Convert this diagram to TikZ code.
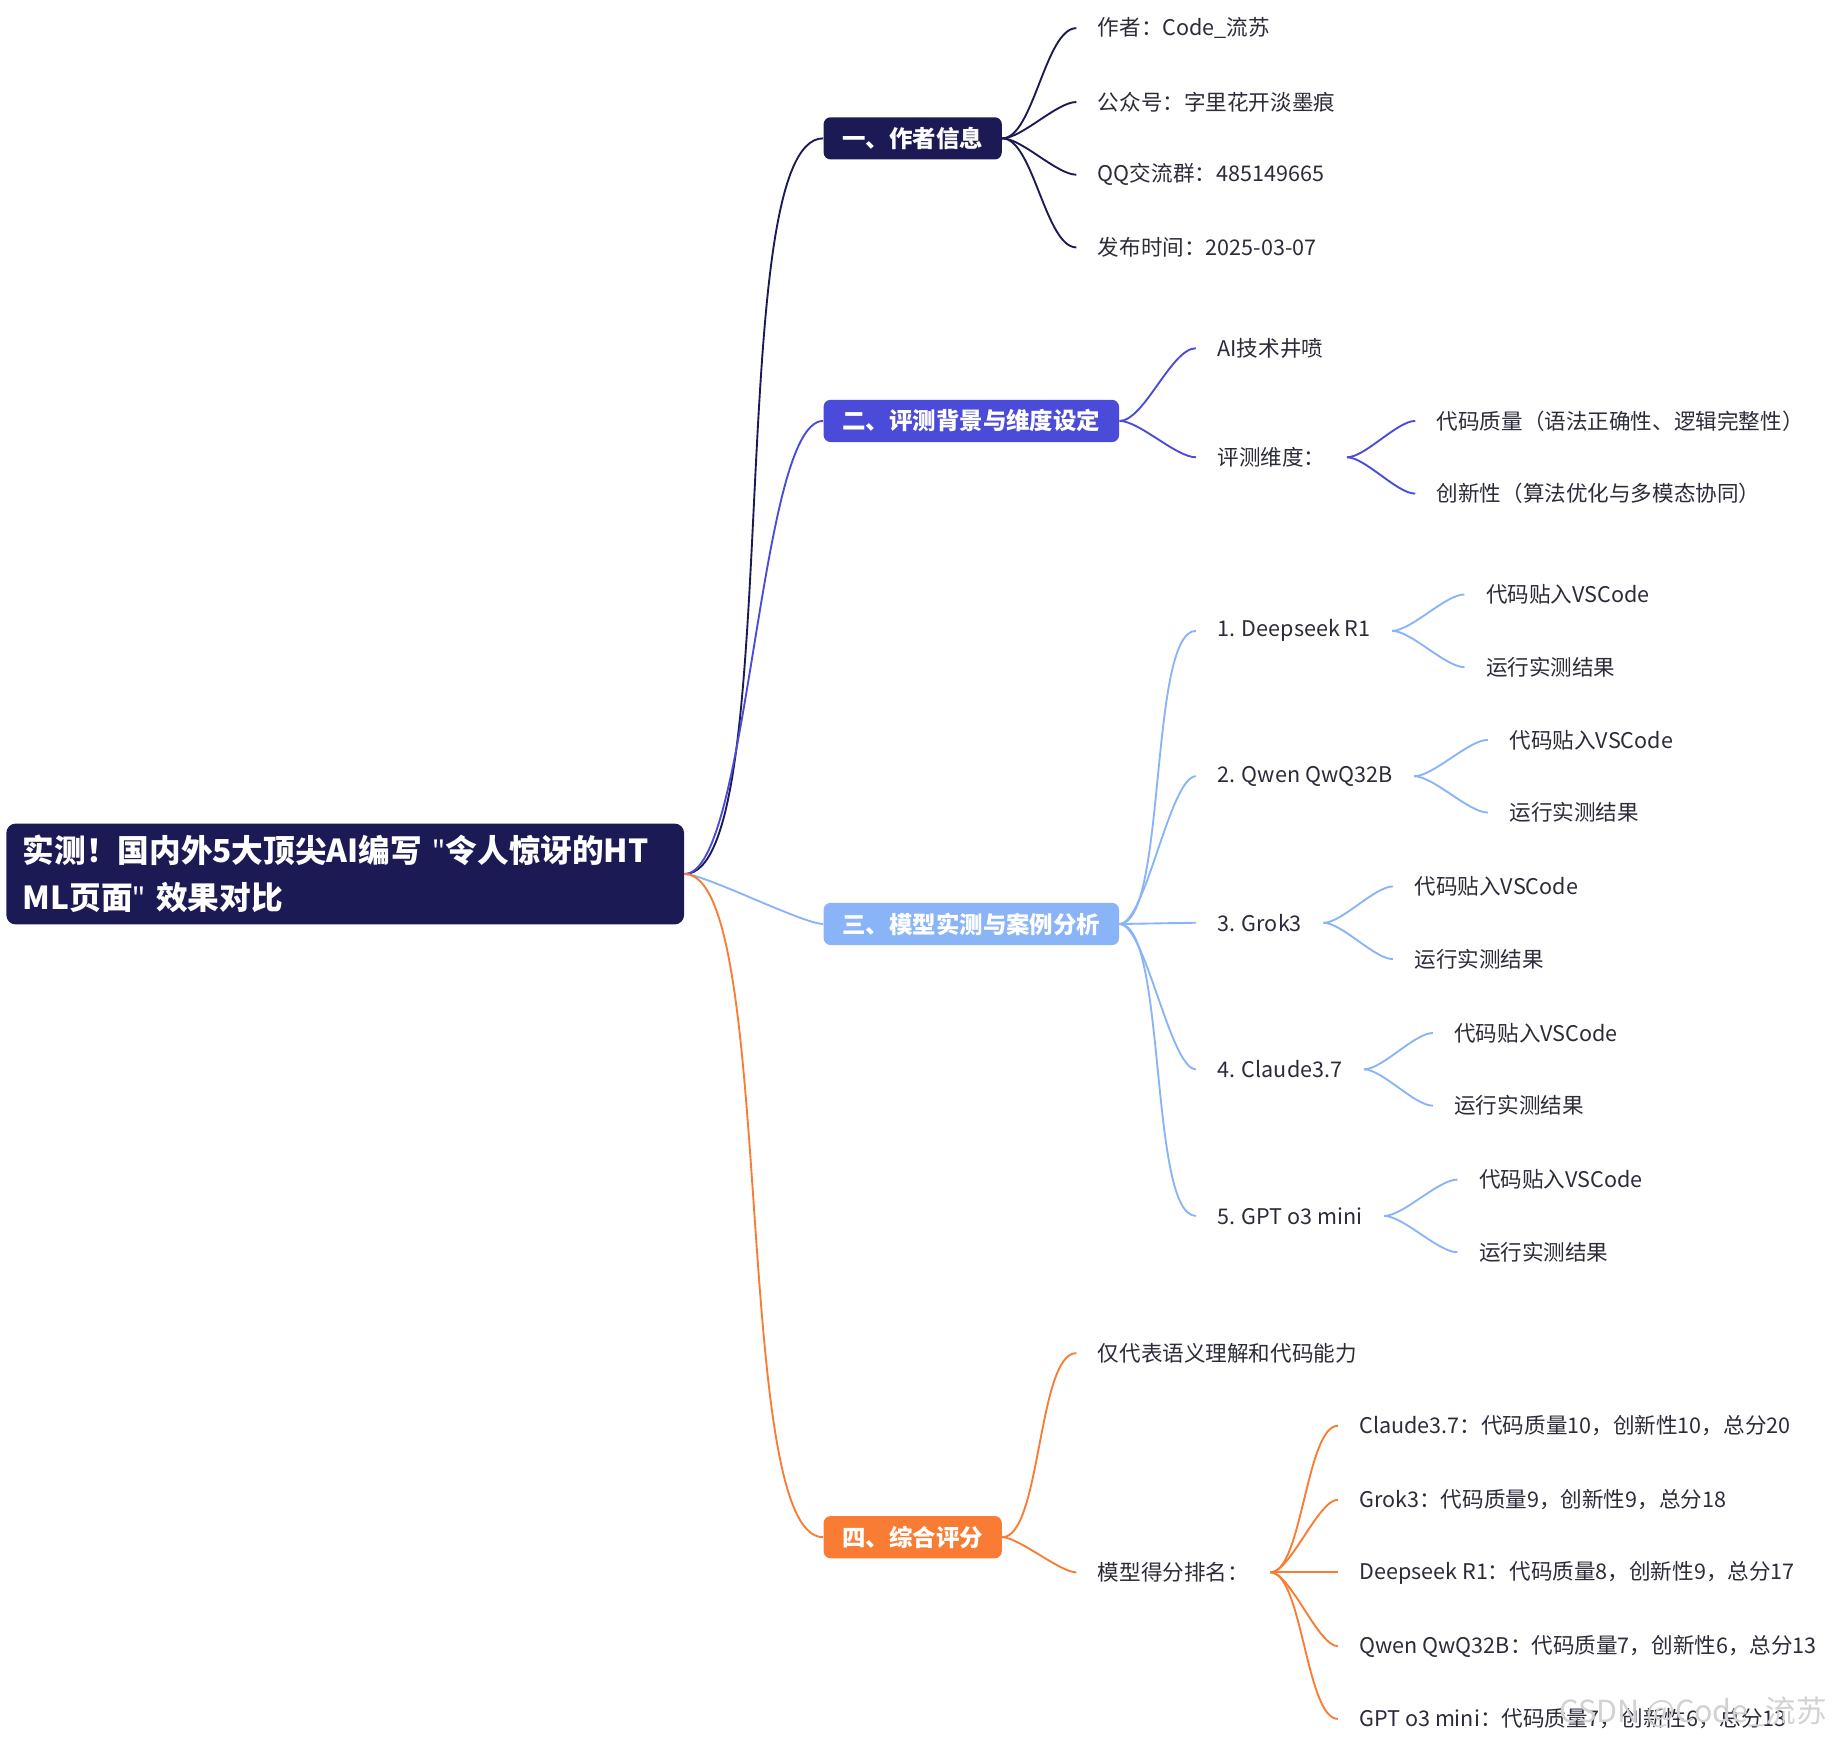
\documentclass[tikz,border=0pt]{standalone}
\usepackage{fontspec}
\setmainfont{Noto Sans CJK SC}
\newfontfamily\latinfont{Noto Sans}
\usepackage{xcolor}
\definecolor{navy}{HTML}{1B1A55}
\definecolor{violet}{HTML}{4B4BD9}
\definecolor{sky}{HTML}{8AB4F8}
\definecolor{tang}{HTML}{F97C35}
\definecolor{ink}{HTML}{2B2B3A}
\newcommand{\dq}{{\latinfont\symbol{34}}}
\begin{document}
\begin{tikzpicture}[x=0.5pt, y=-0.5pt,
    topic/.style={fill=#1, rounded corners=3pt, text=white, font=\fontsize{10}{12}\bfseries,
        minimum height=18pt, inner xsep=8pt, anchor=west},
    leaf/.style={anchor=west, inner xsep=9pt, text=ink, font=\fontsize{9.2}{11}\selectfont},
    link/.style={draw=#1, line width=0.8pt}]
    \useasboundingbox (0,0) rectangle (1565,1484);

    % root
    \node[fill=navy, rounded corners=4pt, text=white, font=\fontsize{13.5}{20}\bfseries,
        align=left, anchor=north west, text width=275pt, minimum height=43pt, inner xsep=7pt]
        (root) at (5,702) {实测！国内外5大顶尖AI编写 \dq{}令人惊讶的HT\\ML页面\dq{} 效果对比};

    % main topics
    \node[topic=navy] (t1) at (702,118) {一、作者信息};
    \node[topic=violet] (t2) at (702,359) {二、评测背景与维度设定};
    \node[topic=sky] (t3) at (702,788) {三、模型实测与案例分析};
    \node[topic=tang] (t4) at (702,1311) {四、综合评分};

    \foreach \t/\c in {t1/navy, t2/violet, t3/sky, t4/tang}
        \draw[link=\c] (root.east) to[out=0, in=180, looseness=0.35] (\t.west);

    % author info
    \node[leaf] (a1) at (918,24) {作者：Code\_流苏};
    \node[leaf] (a2) at (918,87) {公众号：字里花开淡墨痕};
    \node[leaf] (a3) at (918,149) {QQ交流群：485149665};
    \node[leaf] (a4) at (918,211) {发布时间：2025-03-07};
    \foreach \n in {a1,a2,a3,a4}
        \draw[link=navy] (t1.east) to[out=0, in=180, looseness=0.6] (\n.west);

    % background
    \node[leaf] (b1) at (1020,297) {AI技术井喷};
    \node[leaf] (b2) at (1020,390) {评测维度：};
    \node[leaf] (b21) at (1207,359) {代码质量（语法正确性、逻辑完整性）};
    \node[leaf] (b22) at (1207,421) {创新性（算法优化与多模态协同）};
    \foreach \n in {b1,b2}
        \draw[link=violet] (t2.east) to[out=0, in=180, looseness=0.6] (\n.west);
    \foreach \n in {b21,b22}
        \draw[link=violet] (b2.east) to[out=0, in=180, looseness=0.6] (\n.west);

    % models
    \foreach \i/\name/\y/\sx in {1/1. Deepseek R1/538/1249, 2/2. Qwen QwQ32B/662/1269,
            3/3. Grok3/787/1188, 4/4. Claude3.7/912/1222, 5/5. GPT o3 mini/1037/1243} {
        \node[leaf] (m\i) at (1020,\y) {\name};
        \node[leaf] (m\i a) at (\sx,\y-31) {代码贴入VSCode};
        \node[leaf] (m\i b) at (\sx,\y+31) {运行实测结果};
        \draw[link=sky] (t3.east) to[out=0, in=180, looseness=0.4] (m\i.west);
        \draw[link=sky] (m\i.east) to[out=0, in=180, looseness=0.6] (m\i a.west);
        \draw[link=sky] (m\i.east) to[out=0, in=180, looseness=0.6] (m\i b.west);
    }

    % scores
    \node[leaf] (s1) at (918,1154) {仅代表语义理解和代码能力};
    \node[leaf] (s2) at (918,1341) {模型得分排名：};
    \foreach \n in {s1,s2}
        \draw[link=tang] (t4.east) to[out=0, in=180, looseness=0.5] (\n.west);
    \foreach \i/\txt/\y in {1/Claude3.7：代码质量10，创新性10，总分20/1216,
            2/Grok3：代码质量9，创新性9，总分18/1279,
            3/Deepseek R1：代码质量8，创新性9，总分17/1341,
            4/Qwen QwQ32B：代码质量7，创新性6，总分13/1404,
            5/GPT o3 mini：代码质量7，创新性6，总分13/1466} {
        \node[leaf] (r\i) at (1141,\y) {\txt};
        \draw[link=tang] (s2.east) to[out=0, in=180, looseness=0.5] (r\i.west);
    }

    % watermark
    \node[anchor=east, text=gray!35, font=\fontsize{13}{15}\selectfont] (wm) at (1565,1460) {CSDN @Code\_流苏};
\end{tikzpicture}
\end{document}
